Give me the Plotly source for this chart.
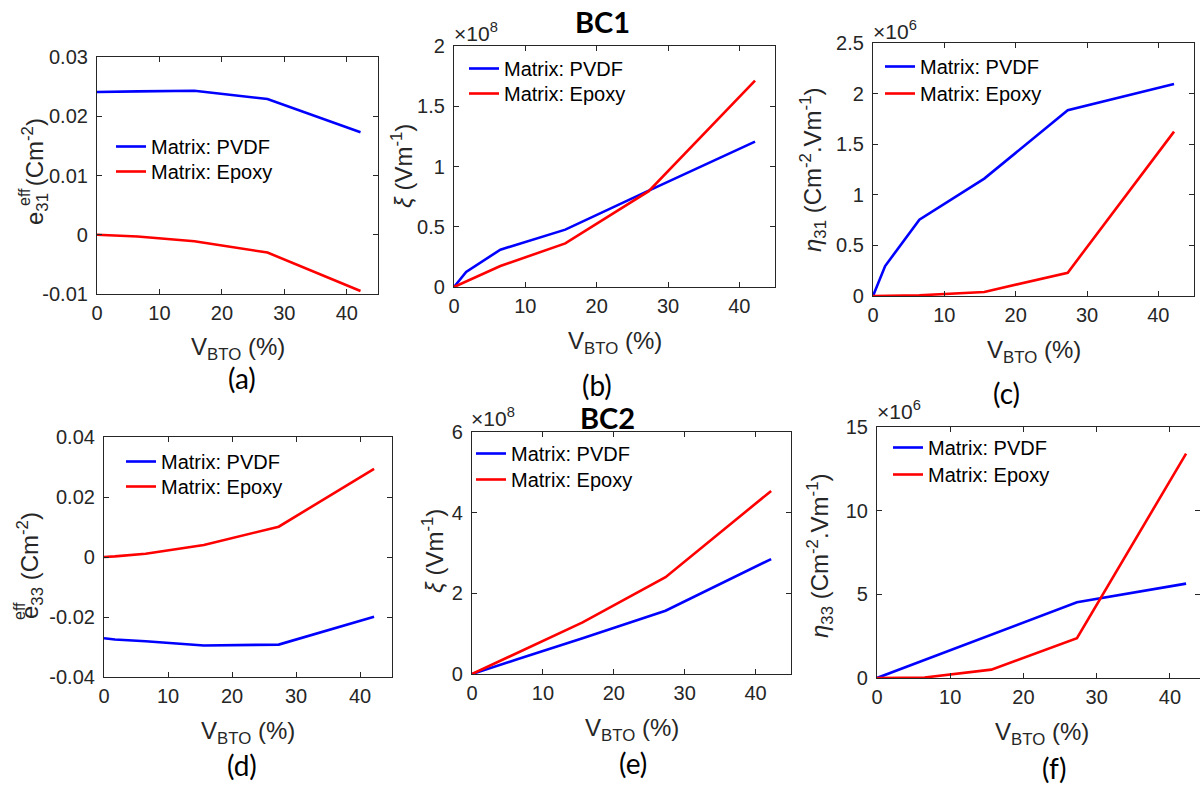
import plotly.graph_objects as go

W, H = 1200, 787

# ---------------- data ----------------
v_bto = [0, 1.7, 6.5, 15.6, 27.3, 42.2]

e31_pvdf = [0.0241, 0.0241, 0.0242, 0.0243, 0.0229, 0.0173]
e31_epoxy = [0.0, -0.0001, -0.0003, -0.0011, -0.0030, -0.0095]

xi1_pvdf = [0, 0.125e8, 0.31e8, 0.476e8, 0.80e8, 1.206e8]
xi1_epoxy = [0, 0.045e8, 0.174e8, 0.362e8, 0.795e8, 1.712e8]

eta31_pvdf = [0, 0.296e6, 0.754e6, 1.16e6, 1.835e6, 2.095e6]
eta31_epoxy = [0, 0.001e6, 0.007e6, 0.04e6, 0.23e6, 1.624e6]

e33_pvdf = [-0.0271, -0.0275, -0.0281, -0.0295, -0.0292, -0.0199]
e33_epoxy = [0.0, 0.0002, 0.0011, 0.0040, 0.0101, 0.0294]

xi2_pvdf = [0, 0.10e8, 0.37e8, 0.886e8, 1.57e8, 2.85e8]
xi2_epoxy = [0, 0.14e8, 0.55e8, 1.28e8, 2.40e8, 4.54e8]

eta33_pvdf = [0, 0.28e6, 1.07e6, 2.58e6, 4.53e6, 5.64e6]
eta33_epoxy = [0, 0.005e6, 0.03e6, 0.50e6, 2.38e6, 13.41e6]

series_names = ["Matrix: PVDF", "Matrix: Epoxy"]
x_ticks = [0, 10, 20, 30, 40]
x_ticktext = ["0", "10", "20", "30", "40"]

yt_a = [-0.01, 0, 0.01, 0.02, 0.03]
yt_a_txt = ["-0.01", "0", "0.01", "0.02", "0.03"]
yt_b = [0, 0.5e8, 1e8, 1.5e8, 2e8]
yt_b_txt = ["0", "0.5", "1", "1.5", "2"]
yt_c = [0, 0.5e6, 1e6, 1.5e6, 2e6, 2.5e6]
yt_c_txt = ["0", "0.5", "1", "1.5", "2", "2.5"]
yt_d = [-0.04, -0.02, 0, 0.02, 0.04]
yt_d_txt = ["-0.04", "-0.02", "0", "0.02", "0.04"]
yt_e = [0, 2e8, 4e8, 6e8]
yt_e_txt = ["0", "2", "4", "6"]
yt_f = [0, 5e6, 10e6, 15e6]
yt_f_txt = ["0", "5", "10", "15"]

# ---------------- layout helpers ----------------
def px_x(p):
    return p / W

def px_y(p):
    return 1 - p / H

AX = "#262626"
TF = "Liberation Sans, Arial, sans-serif"
LF = "Lato, Open Sans, sans-serif"
TICKFONT = dict(family=TF, size=20, color=AX)

# panel boxes in pixels: (left, right, top, bottom)
boxes = [
    (97, 378, 57, 294),
    (454, 775, 46, 287),
    (873, 1194, 43, 296),
    (104, 392, 437, 677),
    (472, 791, 432, 674),
    (877, 1200, 427, 678),
]
xranges = [[0, 45]] * 5 + [[0, 44.1]]
yranges = [[-0.01, 0.03], [0, 2e8], [0, 2.5e6], [-0.04, 0.04], [0, 6e8], [0, 15e6]]
yticks = [(yt_a, yt_a_txt), (yt_b, yt_b_txt), (yt_c, yt_c_txt),
          (yt_d, yt_d_txt), (yt_e, yt_e_txt), (yt_f, yt_f_txt)]
data = [(e31_pvdf, e31_epoxy), (xi1_pvdf, xi1_epoxy), (eta31_pvdf, eta31_epoxy),
        (e33_pvdf, e33_epoxy), (xi2_pvdf, xi2_epoxy), (eta33_pvdf, eta33_epoxy)]
# legend anchor: text start x, row centre y for each of the two entries (pixels)
legend_pos = [(153, (147, 172)), (506, (69, 94)), (922, (67, 94)),
              (163, (462, 487)), (513, (454, 480)), (930, (448, 475))]

fig = go.Figure()
layout = dict(
    width=W, height=H,
    margin=dict(l=0, r=0, t=0, b=0, autoexpand=False),
    paper_bgcolor="white", plot_bgcolor="white",
    showlegend=True,
)

colors = ["#0000ff", "#ff0000"]
k = 0
for i in range(6):
    n = "" if i == 0 else str(i + 1)
    lx, rows = legend_pos[i]
    for j in range(2):
        k += 1
        lname = "legend" if k == 1 else "legend%d" % k
        fig.add_trace(go.Scatter(
            x=v_bto, y=data[i][j], mode="lines",
            line=dict(color=colors[j], width=2.6),
            name=series_names[j], xaxis="x" + n, yaxis="y" + n,
            legend=lname, showlegend=True,
        ))
        layout[lname] = dict(
            x=px_x(lx - 42), y=px_y(rows[j] - 20), xanchor="left", yanchor="top",
            bgcolor="rgba(0,0,0,0)", borderwidth=0,
            font=dict(family=TF, size=20, color="#000000"),
            itemwidth=30,
        )
    l, r, t, b = boxes[i]
    layout["xaxis" + n] = dict(
        domain=[px_x(l), px_x(r)], anchor="y" + n, range=xranges[i],
        tickvals=x_ticks, ticktext=x_ticktext, ticks="inside", ticklen=5,
        tickcolor=AX, showline=True, linecolor=AX, linewidth=1.2,
        mirror="ticks", showgrid=False, zeroline=False, tickfont=TICKFONT,
        ticklabelstandoff=1,
    )
    layout["yaxis" + n] = dict(
        domain=[px_y(b), px_y(t)], anchor="x" + n, range=yranges[i],
        tickvals=yticks[i][0], ticktext=yticks[i][1], ticks="inside", ticklen=5,
        tickcolor=AX, showline=True, linecolor=AX, linewidth=1.2,
        mirror="ticks", showgrid=False, zeroline=False, tickfont=TICKFONT,
        ticklabelstandoff=4,
    )

ann = []

def add_text(text, x, y, size, family=TF, color=AX, angle=0, xa="center", ya="middle"):
    ann.append(dict(text=text, x=px_x(x), y=px_y(y), xref="paper", yref="paper",
                    showarrow=False, textangle=angle, xanchor=xa, yanchor=ya,
                    font=dict(family=family, size=size, color=color)))

# x-axis titles
xt = "V<sub>BTO</sub> (%)"
for (l, r, t, b) in boxes[:5]:
    add_text(xt, (l + r) / 2, b + 55, 24)
add_text(xt, 1042, boxes[5][3] + 55, 24)

# y-axis titles
add_text("e<sub>31</sub> (Cm<sup>-2</sup>)", 35, 172, 24, angle=-90)
add_text("eff", 24, 197, 16, angle=-90)
add_text("<i>ξ</i> (Vm<sup>-1</sup>)", 402, 166, 24, angle=-90)
add_text("<i>η</i><sub>31</sub> (Cm<sup>-2</sup>.Vm<sup>-1</sup>)", 813, 170, 24, angle=-90)
add_text("e<sub>33</sub> (Cm<sup>-2</sup>)", 30, 566, 24, angle=-90)
add_text("eff", 19, 611, 16, angle=-90)
add_text("<i>ξ</i> (Vm<sup>-1</sup>)", 433, 551, 24, angle=-90)
add_text("<i>η</i><sub>33</sub> (Cm<sup>-2</sup>.Vm<sup>-1</sup>)", 820, 556, 24, angle=-90)

# exponent labels
for (x0, y0, e) in [(452, 32, 8), (871, 30, 6), (469, 417, 8), (875, 410, 6)]:
    add_text("×10<sup>%d</sup>" % e, x0, y0, 21, xa="left")

# panel titles
add_text("<b>BC1</b>", 602, 22, 29, family=LF, color="#000000")
add_text("<b>BC2</b>", 607, 417, 29, family=LF, color="#000000")

# panel labels
for (lab, x0, y0) in [("(a)", 242, 378), ("(b)", 597, 385), ("(c)", 1007, 393),
                      ("(d)", 242, 765), ("(e)", 633, 763), ("(f)", 1054, 768)]:
    add_text(lab, x0, y0, 28, family=LF, color="#000000")

layout["annotations"] = ann
fig.update_layout(**layout)
fig.write_html("out.html", config={"displayModeBar": False},
               post_script="document.body.style.margin='0px';document.body.style.overflow='hidden';")
